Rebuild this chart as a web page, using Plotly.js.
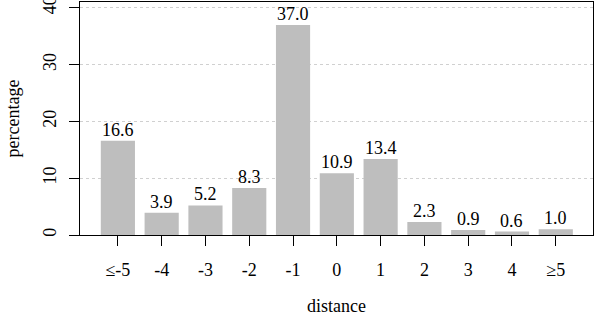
<!DOCTYPE html>
<html><head><meta charset="utf-8">
<script src="https://cdn.plot.ly/plotly-3.0.1.min.js"></script>
<style>html,body{margin:0;padding:0;background:#fff}#chart{width:594px;height:316px}</style>
</head><body><div id="chart"></div>
<script>
const categories = ["≤-5","-4","-3","-2","-1","0","1","2","3","4","≥5"];
const percentages = [16.6, 3.9, 5.2, 8.3, 37.0, 10.9, 13.4, 2.3, 0.9, 0.6, 1.0];
const yTicks = [0, 10, 20, 30, 40];

const FAM = "'Liberation Serif', 'DejaVu Serif', serif";
const font = {family: FAM, size: 17, color: "#000"};
const xs = categories.map((c, i) => i);
const trace = {
  type: "bar",
  x: xs,
  y: percentages,
  marker: {color: "#bebebe", line: {width: 0}},
  width: 0.78,
  hoverinfo: "none"
};
const annotations = percentages.map((v, i) => ({
  x: xs[i], y: v, xref: "x", yref: "y",
  text: v.toFixed(1), showarrow: false,
  xanchor: "center", yanchor: "bottom", yshift: -1,
  font: {family: FAM, size: 18, color: "#000"}
}));
const layout = {
  width: 594, height: 316,
  margin: {l: 80, r: 1, t: 2, b: 81},
  paper_bgcolor: "#fff", plot_bgcolor: "#fff",
  font: font,
  showlegend: false,
  annotations: annotations,
  xaxis: {
    range: [-0.865, 10.85],
    tickmode: "array", tickvals: xs, ticktext: categories,
    ticks: "outside", ticklen: 10, tickwidth: 1, tickcolor: "#000",
    showline: true, linecolor: "#000", linewidth: 1, mirror: true,
    showgrid: false, zeroline: false,
    tickfont: {family: FAM, size: 18},
    ticklabelstandoff: 8,
    title: {text: "distance", font: {family: FAM, size: 18}, standoff: 36}
  },
  yaxis: {
    range: [0, 41.05],
    tickmode: "array", tickvals: yTicks, ticktext: yTicks.map(String),
    ticks: "outside", ticklen: 10, tickwidth: 1, tickcolor: "#000",
    tickangle: -90,
    ticklabeloverflow: "allow",
    showline: true, linecolor: "#000", linewidth: 1, mirror: true,
    showgrid: true, gridcolor: "#d0d0d0", griddash: "dot", gridwidth: 1,
    zeroline: false,
    tickfont: {family: FAM, size: 18},
    ticklabelstandoff: 6,
    title: {text: "percentage", font: {family: FAM, size: 18}, standoff: 15}
  }
};
Plotly.newPlot("chart", [trace], layout, {staticPlot: true, displayModeBar: false});
</script></body></html>
